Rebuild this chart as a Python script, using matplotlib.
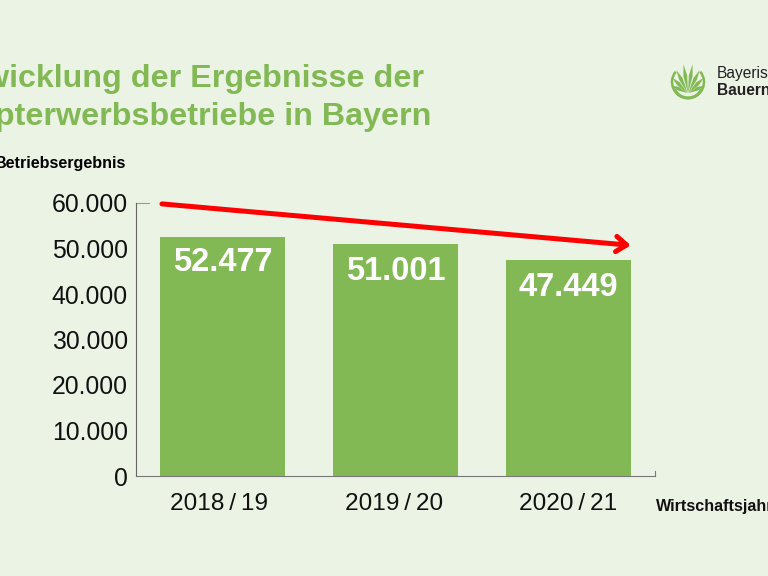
import matplotlib.pyplot as plt
from matplotlib.patches import Polygon, Arc
from matplotlib.transforms import ScaledTranslation
import numpy as np

years = ['2018\u2009/\u200919', '2019\u2009/\u200920', '2020\u2009/\u200921']
values = [52477, 51001, 47449]
value_labels = ['52.477', '51.001', '47.449']
yticks = [0, 10000, 20000, 30000, 40000, 50000, 60000]
ytick_labels = ['0', '10.000', '20.000', '30.000', '40.000', '50.000', '60.000']
trend_start = (-0.35, 59800)
trend_end = (2.36, 50700)

bg = '#ebf3e5'
green = '#82b955'
W, H = 768, 576

plt.rcParams['font.family'] = ['Liberation Sans', 'DejaVu Sans']

fig = plt.figure(figsize=(7.68, 5.76), dpi=100, facecolor=bg)
ax = fig.add_axes([136 / W, 1 - 476 / H, 519 / W, 273 / H], facecolor=bg)

ax.bar(range(3), values, width=0.7225, color=green, zorder=2)
ax.set_xlim(-0.5, 2.5)
ax.set_ylim(0, 60000)
ax.set_xticks(range(3), years)
ax.set_yticks(yticks, ytick_labels)
ax.tick_params(axis='y', labelsize=17.8, length=0, pad=6, colors='#111111')
ax.tick_params(axis='x', labelsize=17.6, length=0, pad=12, colors='#111111')
# year labels sit slightly left of the bar centres
for lab, dx in zip(ax.get_xticklabels(), [-3, -1, 0]):
    lab.set_transform(lab.get_transform() + ScaledTranslation(dx / 100, 0, fig.dpi_scale_trans))
ax.spines['top'].set_visible(False)
ax.spines['right'].set_visible(False)
ax.spines['left'].set_color('#666666')
ax.spines['bottom'].set_color('#777777')
ax.spines['left'].set_linewidth(0.8)
ax.spines['bottom'].set_linewidth(0.8)

# small tick stubs at the ends of the axes
ax.plot([0, 0.025], [60000, 60000], color='#999999', lw=0.8, clip_on=False, transform=ax.get_yaxis_transform())
ax.plot([1, 1], [0, 0.018], color='#777777', lw=0.8, clip_on=False, transform=ax.transAxes)

label_offsets = [-18, -20, -20]
for k, (v, lab) in enumerate(zip(values, value_labels)):
    ax.annotate(lab, (k, v), xytext=(0, label_offsets[k]), textcoords='offset points',
                ha='center', va='center', color='white', fontsize=23.5, fontweight='bold', zorder=3)

ax.annotate('', xy=trend_end, xytext=trend_start, zorder=4, annotation_clip=False,
            arrowprops=dict(arrowstyle='->,head_length=0.75,head_width=0.55', color='#ff0000', lw=3.6,
                            shrinkA=0, shrinkB=0, capstyle='round', joinstyle='round'))

# title runs off the left edge like in the slide
fig.text(-68 / W, 1 - 87 / H, 'Entwicklung der Ergebnisse der', color=green, fontsize=23.2, fontweight='bold', ha='left', va='baseline')
fig.text(-66 / W, 1 - 125 / H, 'Haupterwerbsbetriebe in Bayern', color=green, fontsize=23.2, fontweight='bold', ha='left', va='baseline')

fig.text(-5 / W, 1 - 168 / H, 'Betriebsergebnis', color='black', fontsize=11.6, fontweight='bold', ha='left', va='baseline')
fig.text(656 / W, 1 - 511 / H, 'Wirtschaftsjahr', color='#111111', fontsize=11.6, fontweight='bold', ha='left', va='baseline')

# logo
fig.text(717 / W, 1 - 78 / H, 'Bayerischer', color='#222222', fontsize=11.2, ha='left', va='baseline')
fig.text(717 / W, 1 - 95 / H, 'Bauernverband', color='#222222', fontsize=11.2, fontweight='bold', ha='left', va='baseline')

logo = fig.add_axes([0, 0, 1, 1], facecolor='none', zorder=5)
logo.set_xlim(0, W)
logo.set_ylim(H, 0)
logo.axis('off')
cx, cy = 688, 82
# y axis is inverted here, so angles run clockwise on screen
logo.add_patch(Arc((cx, cy), 32, 32, theta1=-40, theta2=220, color=green, lw=1.8))
logo.add_patch(Arc((cx, cy + 1), 30, 30, theta1=25, theta2=155, color=green, lw=2.2))
leaves = [(-66, 18), (-46, 22), (-27, 26), (-9, 29), (9, 29), (27, 26), (46, 22), (66, 18)]
for ang, r in leaves:
    t = np.radians(ang)
    base = (cx + 0.8 * np.sin(t), cy + 11)
    tip = (cx + r * np.sin(t), cy + 11 - r * np.cos(t))
    nx, ny = np.cos(t) * 1.9, np.sin(t) * 1.9
    mid = (cx + 0.6 * r * np.sin(t), cy + 11 - 0.6 * r * np.cos(t))
    logo.add_patch(Polygon([base, (mid[0] - nx, mid[1] - ny), tip, (mid[0] + nx, mid[1] + ny)],
                           closed=True, color=green, lw=0))

fig.savefig('out.png', dpi=100, facecolor=bg)
